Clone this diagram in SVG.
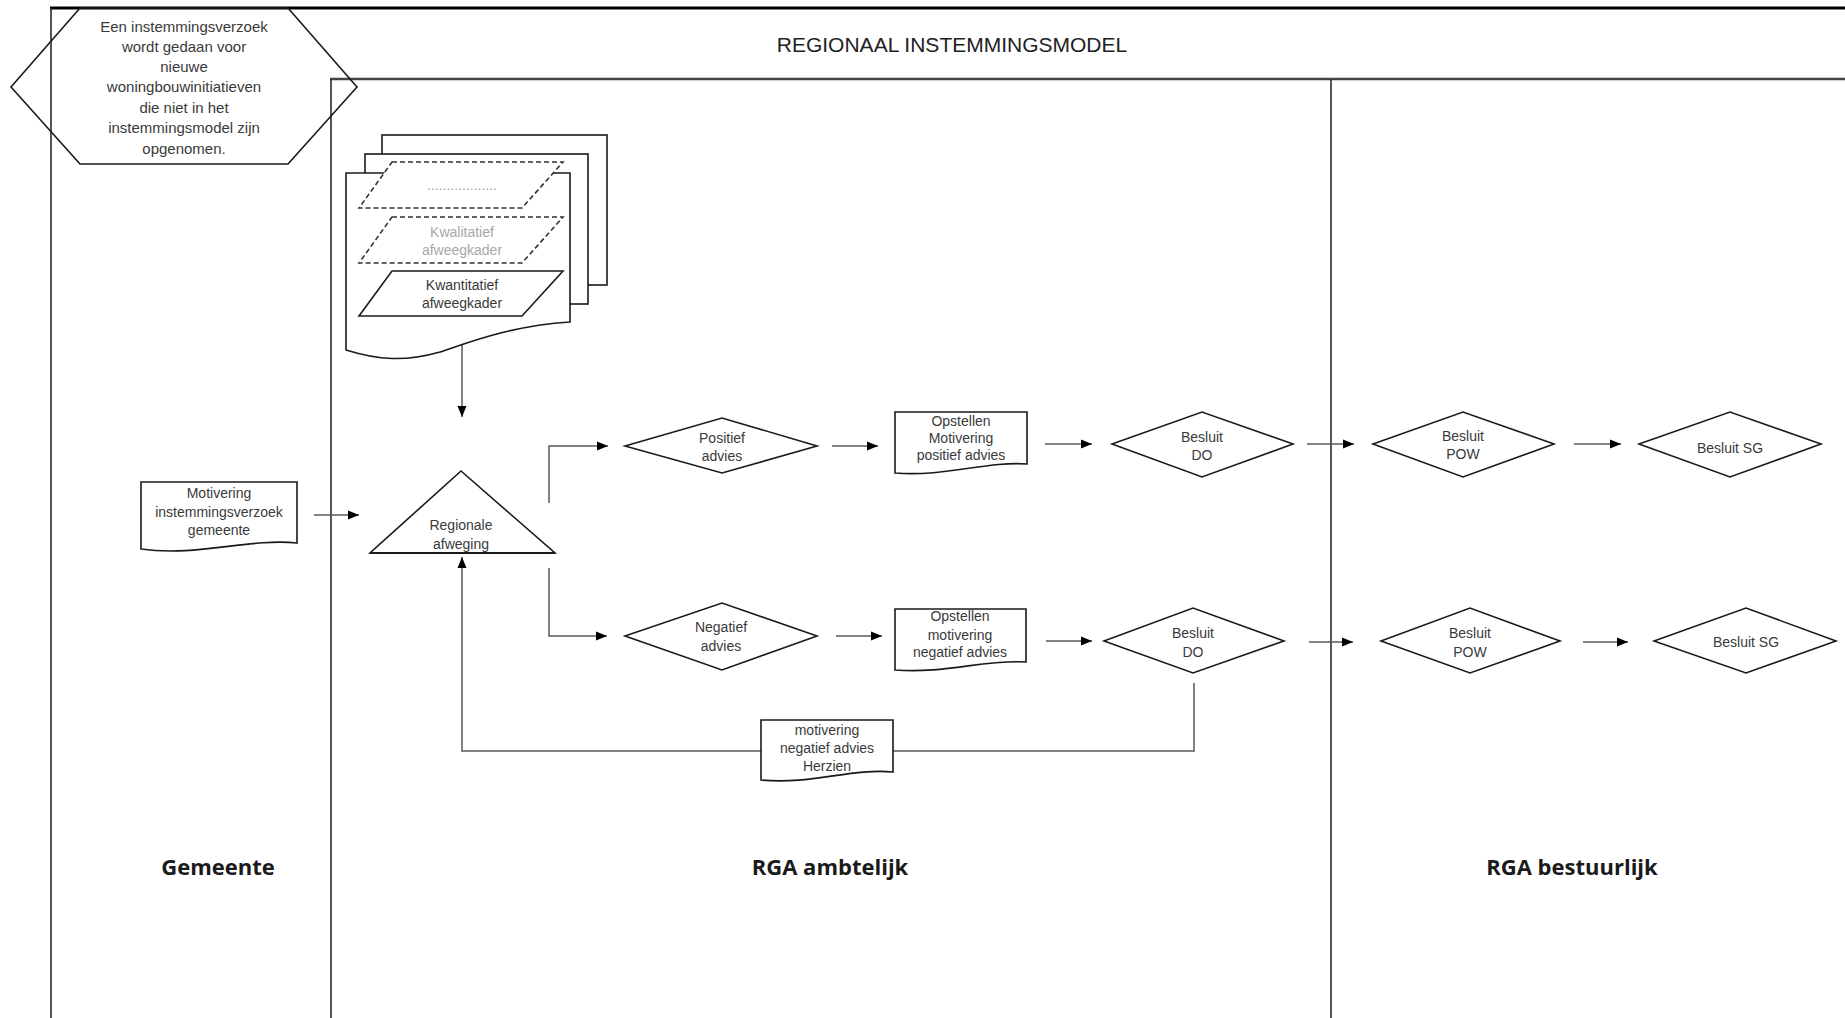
<svg xmlns="http://www.w3.org/2000/svg" width="1845" height="1018" viewBox="0 0 1845 1018">
<defs>
<style>
.shape{fill:#fff;stroke:#1a1a1a;stroke-width:1.6}
.hex{fill:none;stroke:#1a1a1a;stroke-width:1.6}
.dash{fill:#fff;stroke:#333;stroke-width:1.6;stroke-dasharray:5 3}
.t{font-family:"Liberation Sans",Arial,sans-serif;font-size:14px;fill:#3a3a3a;text-anchor:middle}
.th{font-family:"Liberation Sans",Arial,sans-serif;font-size:15px;fill:#3a3a3a;text-anchor:middle}
.tg{font-family:"Liberation Sans",Arial,sans-serif;font-size:14px;fill:#a8a8a8;text-anchor:middle}
.lane{font-family:"Open Sans","Liberation Sans",sans-serif;font-size:22px;font-weight:bold;fill:#1a1a1a;text-anchor:middle}
.title{font-family:"Liberation Sans",Arial,sans-serif;font-size:21px;fill:#222;text-anchor:middle}
.conn{fill:none;stroke:#5a5a5a;stroke-width:1.5}
.frame{stroke:#2a2a2a;stroke-width:1.6;fill:none}
</style>
<marker id="arr" markerUnits="userSpaceOnUse" markerWidth="12" markerHeight="10" refX="11" refY="5" orient="auto">
<path d="M0,0.5 L11,5 L0,9.5 Z" fill="#000"/>
</marker>
</defs>
<rect width="1845" height="1018" fill="#fff"/>

<g id="frame">
<line x1="50" y1="8" x2="1845" y2="8" stroke="#000" stroke-width="3"/>
<line x1="330" y1="79" x2="1845" y2="79" stroke="#444" stroke-width="2.5"/>
<line class="frame" x1="51" y1="8" x2="51" y2="1018"/>
<line class="frame" x1="331" y1="79" x2="331" y2="1018"/>
<line class="frame" x1="1331" y1="79" x2="1331" y2="1018"/>
<text class="title" x="952" y="52">REGIONAAL INSTEMMINGSMODEL</text>
<text class="lane" x="218" y="875">Gemeente</text>
<text class="lane" x="830" y="875">RGA ambtelijk</text>
<text class="lane" x="1572" y="875">RGA bestuurlijk</text>
</g>

<g id="note">
<polygon class="hex" points="11,87 80,8 288,8 357,87 288,164 80,164"/>
<text class="th" x="184" y="32">Een instemmingsverzoek</text>
<text class="th" x="184" y="52">wordt gedaan voor</text>
<text class="th" x="184" y="72">nieuwe</text>
<text class="th" x="184" y="92">woningbouwinitiatieven</text>
<text class="th" x="184" y="113">die niet in het</text>
<text class="th" x="184" y="133">instemmingsmodel zijn</text>
<text class="th" x="184" y="154">opgenomen.</text>
</g>

<g id="connectors">
<path class="conn" d="M462,327 V417" marker-end="url(#arr)"/>
<path class="conn" d="M314,515 H359" marker-end="url(#arr)"/>
<path class="conn" d="M549,503 V446 H608" marker-end="url(#arr)"/>
<path class="conn" d="M549,568 V636 H607" marker-end="url(#arr)"/>
<path class="conn" d="M832,446 H878" marker-end="url(#arr)"/>
<path class="conn" d="M1045,444 H1092" marker-end="url(#arr)"/>
<path class="conn" d="M1307,444 H1354" marker-end="url(#arr)"/>
<path class="conn" d="M1574,444 H1621" marker-end="url(#arr)"/>
<path class="conn" d="M836,636 H882" marker-end="url(#arr)"/>
<path class="conn" d="M1046,641 H1092" marker-end="url(#arr)"/>
<path class="conn" d="M1309,642 H1353" marker-end="url(#arr)"/>
<path class="conn" d="M1583,642 H1628" marker-end="url(#arr)"/>
<path class="conn" d="M1194,683 V751 H462 V557" marker-end="url(#arr)"/>
</g>

<g id="afweegkaders">
<rect class="shape" x="382" y="135" width="225" height="150"/>
<rect class="shape" x="365" y="154" width="223" height="150"/>
<path class="shape" d="M346,173 H570 V322 C 510,326 470,342 440,352 C 405,362 378,360 346,350 Z"/>
<polygon class="dash" points="392,162 563,162 522,208 359,208"/>
<text class="tg" x="462" y="190">..................</text>
<polygon class="dash" points="392,217 563,217 522,263 359,263"/>
<text class="tg" x="462" y="237">Kwalitatief</text>
<text class="tg" x="462" y="255">afweegkader</text>
<polygon class="shape" points="392,271 563,271 522,316 359,316"/>
<text class="t" x="462" y="290">Kwantitatief</text>
<text class="t" x="462" y="308">afweegkader</text>
</g>

<g id="motivering-gemeente">
<path class="shape" d="M141,482 H297 V543 C 250,538 196,557 141,549 Z"/>
<text class="t" x="219" y="498">Motivering</text>
<text class="t" x="219" y="517">instemmingsverzoek</text>
<text class="t" x="219" y="535">gemeente</text>
</g>

<g id="regionale-afweging">
<polygon class="shape" points="461,471 555,553 370,553"/>
<line x1="370" y1="553" x2="555" y2="553" stroke="#1a1a1a" stroke-width="2"/>
<text class="t" x="461" y="530">Regionale</text>
<text class="t" x="461" y="549">afweging</text>
</g>

<g id="positief-advies">
<polygon class="shape" points="625,446 722,418 817,446 722,473"/>
<text class="t" x="722" y="443">Positief</text>
<text class="t" x="722" y="461">advies</text>
</g>

<g id="opstellen-positief">
<path class="shape" d="M895,412 H1027 V464 C 987,461 945,477 895,473 Z"/>
<text class="t" x="961" y="426">Opstellen</text>
<text class="t" x="961" y="443">Motivering</text>
<text class="t" x="961" y="460">positief advies</text>
</g>

<g id="besluit-do-pos">
<polygon class="shape" points="1112,444 1202,412 1293,444 1202,477"/>
<text class="t" x="1202" y="442">Besluit</text>
<text class="t" x="1202" y="460">DO</text>
</g>

<g id="besluit-pow-pos">
<polygon class="shape" points="1373,444 1463,412 1554,444 1463,477"/>
<text class="t" x="1463" y="441">Besluit</text>
<text class="t" x="1463" y="459">POW</text>
</g>

<g id="besluit-sg-pos">
<polygon class="shape" points="1639,444 1730,412 1821,444 1730,477"/>
<text class="t" x="1730" y="453">Besluit SG</text>
</g>

<g id="negatief-advies">
<polygon class="shape" points="625,636 722,603 817,636 722,670"/>
<text class="t" x="721" y="632">Negatief</text>
<text class="t" x="721" y="651">advies</text>
</g>

<g id="opstellen-negatief">
<path class="shape" d="M895,609 H1026 V662 C 986,659 945,674 895,670 Z"/>
<text class="t" x="960" y="621">Opstellen</text>
<text class="t" x="960" y="640">motivering</text>
<text class="t" x="960" y="657">negatief advies</text>
</g>

<g id="besluit-do-neg">
<polygon class="shape" points="1104,641 1193,608 1284,641 1193,673"/>
<text class="t" x="1193" y="638">Besluit</text>
<text class="t" x="1193" y="657">DO</text>
</g>

<g id="besluit-pow-neg">
<polygon class="shape" points="1381,641 1470,608 1560,641 1470,673"/>
<text class="t" x="1470" y="638">Besluit</text>
<text class="t" x="1470" y="657">POW</text>
</g>

<g id="besluit-sg-neg">
<polygon class="shape" points="1654,641 1746,608 1836,641 1746,673"/>
<text class="t" x="1746" y="647">Besluit SG</text>
</g>

<g id="motivering-herzien">
<path class="shape" d="M761,720 H893 V772 C 852,768 810,785 761,780 Z"/>
<text class="t" x="827" y="735">motivering</text>
<text class="t" x="827" y="753">negatief advies</text>
<text class="t" x="827" y="771">Herzien</text>
</g>
</svg>
